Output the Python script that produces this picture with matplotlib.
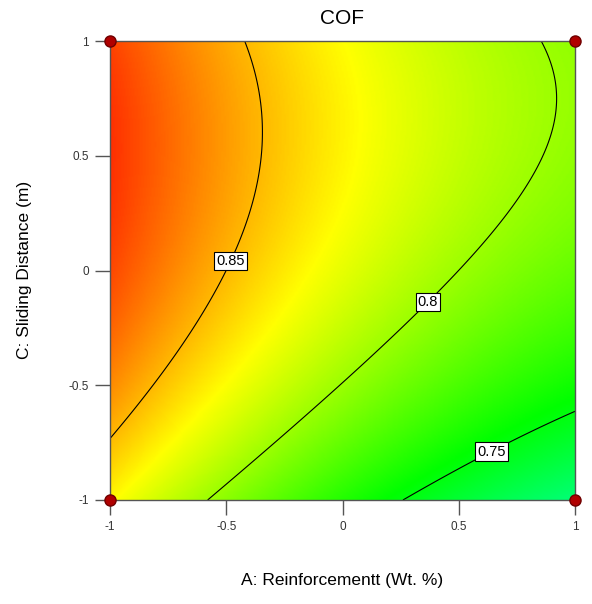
import numpy as np
import matplotlib
matplotlib.use("Agg")
import matplotlib.pyplot as plt
from matplotlib.colors import LinearSegmentedColormap

# Quadratic response-surface model:
# COF = b0 + bA*A + bC*C + bAC*A*C + bA2*A^2 + bC2*C^2  (coded units)
model_terms = ["Intercept", "A", "C", "AC", "A^2", "C^2"]
model_coefs = [0.82216, -0.05000, 0.03284, 0.00592, 0.01124, -0.02554]

contour_levels = [0.75, 0.8, 0.85]
label_positions = [(0.63, -0.77), (0.35, -0.12), (-0.5, 0.05)]
tick_values = [-1, -0.5, 0, 0.5, 1]
tick_labels = ["-1", "-0.5", "0", "0.5", "1"]
design_x = [-1, 1, -1, 1]
design_y = [-1, -1, 1, 1]

grid = np.linspace(-1, 1, 301)
X, Y = np.meshgrid(grid, grid)
b0, bA, bC, bAC, bA2, bC2 = model_coefs
Z = b0 + bA*X + bC*Y + bAC*X*Y + bA2*X*X + bC2*Y*Y

cmap = LinearSegmentedColormap.from_list(
    "de", [(0, (0, 1, 1)), (1/3, (0, 1, 0)), (2/3, (1, 1, 0)), (1, (1, 0, 0))])
plt.rcParams['font.family'] = ['Liberation Sans', 'DejaVu Sans']
fig = plt.figure(figsize=(5.92, 6.04), dpi=100)
ax = fig.add_axes([110/592, 1-500/604, 465/592, 459/604])
ax.imshow(Z, extent=[-1, 1, -1, 1], origin="lower", cmap=cmap, vmin=0.678, vmax=0.905,
          aspect="auto", interpolation="bilinear")
cs = ax.contour(X, Y, Z, levels=contour_levels, colors="k", linewidths=0.8)
lbl = ax.clabel(cs, manual=label_positions, inline=False, fmt=lambda v: f"{v:g}", fontsize=10.5)
for t in lbl:
    t.set_rotation(0)
    t.set_transform_rotates_text(False)
    t.set_bbox(dict(facecolor="white", edgecolor="black", boxstyle="square,pad=0.15", linewidth=0.8))
    t.set_zorder(5)
ax.set_xlim(-1, 1); ax.set_ylim(-1, 1)
ax.set_xticks(tick_values, tick_labels); ax.set_yticks(tick_values, tick_labels)
ax.tick_params(direction="out", length=11, width=1, color="#555555", labelsize=8.5,
               labelcolor="#333333", pad=4)
for s in ax.spines.values():
    s.set_color("#555555"); s.set_linewidth(1)
ax.plot(design_x, design_y, "o", color="#b00000", mec="#700000", ms=8, clip_on=False, zorder=6)
fig.text(342/592, 1-18/604, "COF", ha="center", va="center", fontsize=15)
fig.text(342/592, 1-580/604, "A: Reinforcementt (Wt. %)", ha="center", va="center", fontsize=12.5)
fig.text(25/592, 1-270/604, "C: Sliding Distance (m)", ha="center", va="center", rotation=90, fontsize=12.5)
fig.savefig("out.png")
